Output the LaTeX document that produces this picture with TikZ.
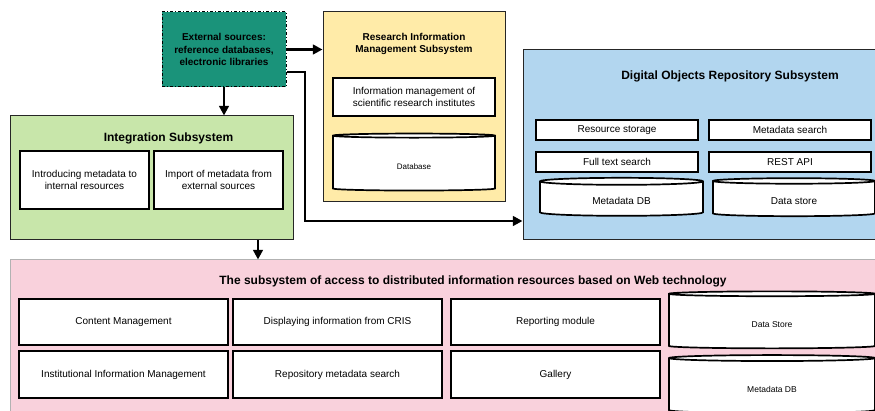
\documentclass[tikz,border=0pt]{standalone}
\usepackage{fontspec}
\setmainfont{Liberation Sans}
\usepackage{xcolor}
\usetikzlibrary{shapes.geometric, arrows.meta, positioning}

\definecolor{extteal}{HTML}{1A937A}
\definecolor{rimsyellow}{HTML}{FFEBA8}
\definecolor{dorsblue}{HTML}{B2D6EF}
\definecolor{integgreen}{HTML}{C8E6AA}
\definecolor{webpink}{HTML}{F9D1DC}

\begin{document}
\begin{tikzpicture}[x=1pt, y=-1pt,
        group/.style={draw=black!85, line width=1pt, rectangle, inner sep=0pt},
        box/.style={draw, fill=white, line width=1.7pt, rectangle, align=center, font=\fontsize{10}{12.5}\selectfont, inner sep=1pt},
        dbase/.style={draw, fill=white, line width=1.7pt, cylinder, shape border rotate=90, aspect=0.12, align=center, inner sep=0pt, text height=15pt, text depth=2pt},
        title/.style={font=\fontsize{12}{14}\selectfont\bfseries, align=center},
        smalltitle/.style={font=\fontsize{10}{12}\selectfont\bfseries, align=center},
        arrow/.style={-{Triangle[length=3.4mm, width=3.4mm]}, line width=2.6pt}
    ]
        \clip (0,0) rectangle (875,411);

        % External sources
        \node[draw, fill=extteal, line width=1pt, dash dot, minimum width=124, minimum height=75, smalltitle, font=\fontsize{10}{12.5}\selectfont\bfseries] (ext) at (224,49.5) {External sources:\\reference databases,\\electronic libraries};

        % Research Information Management Subsystem
        \node[group, fill=rimsyellow, minimum width=182, minimum height=190] (rims) at (414,107) {};
        \node[smalltitle] (rims_title) at (414,44) {Research Information\\Management Subsystem};
        \node[box, minimum width=162, minimum height=38] (rims_info) at (414,97) {Information management of\\scientific research institutes};
        \node[dbase, minimum width=162, minimum height=57, font=\fontsize{8}{10}\selectfont] (rims_db) at (414,163.5) {Database};

        % Digital Objects Repository Subsystem
        \node[group, fill=dorsblue, minimum width=360, minimum height=190] (dors) at (703,145) {};
        \node[title] (dors_title) at (730,76) {Digital Objects Repository Subsystem};
        \node[box, minimum width=162, minimum height=20] (storage) at (617,130) {Resource storage};
        \node[box, minimum width=162, minimum height=20] (msearch) at (790,130) {Metadata search};
        \node[box, minimum width=162, minimum height=20] (fulltext) at (617,162) {Full text search};
        \node[box, minimum width=162, minimum height=20] (rest) at (790,162) {REST API};
        \node[dbase, minimum width=163, minimum height=38, font=\fontsize{10}{12}\selectfont, text height=13pt] (dors_mdb) at (621.5,199) {Metadata DB};
        \node[dbase, minimum width=162, minimum height=38, font=\fontsize{10}{12}\selectfont, text height=13pt] (dors_ds) at (794,199) {Data store};

        % Integration Subsystem
        \node[group, fill=integgreen, minimum width=283, minimum height=124] (integ) at (151.5,178) {};
        \node[title] (integ_title) at (168.5,138) {Integration Subsystem};
        \node[box, minimum width=129, minimum height=58] (intro) at (84.5,180) {Introducing metadata to\\internal resources};
        \node[box, minimum width=129, minimum height=58] (import) at (218.5,180) {Import of metadata from\\external sources};

        % Web access subsystem
        \node[group, fill=webpink, draw=black!30, minimum width=880, minimum height=165] (web) at (450,342.5) {};
        \node[title] (web_title) at (473,281) {The subsystem of access to distributed information resources based on Web technology};
        \node[box, minimum width=209, minimum height=46] (content) at (123.5,322) {Content Management};
        \node[box, minimum width=209, minimum height=46] (cris) at (337.5,322) {Displaying information from CRIS};
        \node[box, minimum width=209, minimum height=46] (report) at (555.5,322) {Reporting module};
        \node[box, minimum width=209, minimum height=47] (institut) at (123.5,374.5) {Institutional Information Management};
        \node[box, minimum width=209, minimum height=47] (repsearch) at (337.5,374.5) {Repository metadata search};
        \node[box, minimum width=209, minimum height=47] (gallery) at (555.5,374.5) {Gallery};
        \node[dbase, minimum width=206, minimum height=57, font=\fontsize{8.5}{10}\selectfont] (web_ds) at (772,321.5) {Data Store};
        \node[dbase, minimum width=206, minimum height=58, font=\fontsize{8.5}{10}\selectfont] (web_mdb) at (772,386) {Metadata DB};

        % Connectors
        \draw[arrow] (ext.east |- 0,49.5) -- (rims.west |- 0,49.5);
        \draw[arrow] (ext.south) -- (integ.north -| ext.south);
        \draw[arrow] (ext.east |- 0,72) -- (305,72) |- (dors.west |- 0,221);
        \draw[arrow] (integ.south -| 258,0) -- (web.north -| 258,0);
    \end{tikzpicture}
\end{document}
